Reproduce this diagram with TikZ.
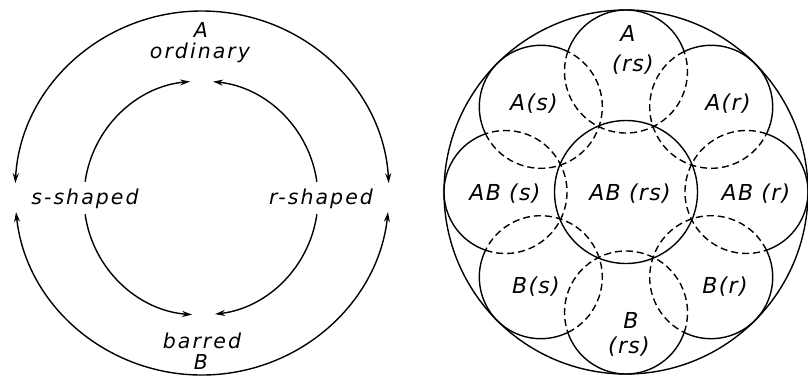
\documentclass[tikz,border=0pt]{standalone}
\usepackage{fontspec}
\usetikzlibrary{arrows.meta,calc}
\newfontfamily\lettL[LetterSpace=10]{DejaVu Sans}
\newfontfamily\lettR[LetterSpace=6]{DejaVu Sans}
\begin{document}
\begin{tikzpicture}[x=1pt,y=1pt,
  ln/.style={line width=1.4pt},
  dsh/.style={ln, dash pattern=on 7pt off 4pt},
  arr/.style={ln,-{Stealth[length=10pt,width=6pt]}},
  arrs/.style={ln,{Stealth[length=10pt,width=6pt]}-{Stealth[length=10pt,width=6pt]}},
  lblL/.style={font=\lettL\itshape\fontsize{20.5}{24}\selectfont, inner sep=0pt, anchor=base},
  lblR/.style={font=\lettR\itshape\fontsize{22}{26}\selectfont, inner sep=0pt, anchor=base}]
\useasboundingbox (0,0) rectangle (808,384);
% ---------- left diagram ----------
\coordinate (LO) at (202,191);
\coordinate (LI) at (201,186);
\draw[arrs] (LO) ++(176.9:187 and 182) arc[start angle=176.9,end angle=3.1,x radius=187,y radius=182];
\draw[arrs] (LO) ++(186:187 and 182) arc[start angle=186,end angle=354,x radius=187,y radius=182];
\draw[arr] (LI) ++(172:117) arc[start angle=172,end angle=95.4,radius=117];
\draw[arr] (LI) ++(8:117) arc[start angle=8,end angle=84.1,radius=117];
\draw[arr] (LI) ++(188:117) arc[start angle=188,end angle=265.6,radius=117];
\draw[arr] (LI) ++(-8:117) arc[start angle=-8,end angle=-83.1,radius=117];
\node[lblL] (tA) at (201,347) {A};
\node[lblL] (tord) at (200,326) {ordinary};
\node[lblL] (ts) at (85,180) {s-shaped};
\node[lblL] (tr) at (321,180) {r-shaped};
\node[lblL] (tbar) at (202,36) {barred};
\node[lblL] (tB) at (201,15) {B};
% ---------- right diagram ----------
\coordinate (C) at (626,192);
\draw[ln] (C) circle[radius=182];
\draw[ln] (C) circle[radius=71.5];
\foreach \k in {0,...,7}{
  \pgfmathsetmacro\th{90+45*\k}
  \coordinate (c\k) at ($(C)+(\th:120.5)$);
  \draw[ln] (c\k) ++(\th-71.1:61.5) arc[start angle=\th-71.1, end angle=\th+71.1, radius=61.5];
  \draw[dsh] (c\k) ++(\th+71.1:61.5) arc[start angle=\th+71.1, end angle=\th+288.9, radius=61.5];
}
\node[lblR] (ra1) at (628,343) {A};
\node[lblR] (ra2) at (633,313) {(rs)};
\node[lblR] (as) at (534,274) {A(s)};
\node[lblR] (ar) at (728,274) {A(r)};
\node[lblR] (abs) at (505,184) {AB (s)};
\node[lblR] (abrs) at (630,184) {AB (rs)};
\node[lblR] (abr) at (756,184) {AB (r)};
\node[lblR] (bs) at (536,91) {B(s)};
\node[lblR] (br) at (725,91) {B(r)};
\node[lblR] (rb1) at (631,56) {B};
\node[lblR] (rb2) at (629,31) {(rs)};
\end{tikzpicture}
\end{document}
